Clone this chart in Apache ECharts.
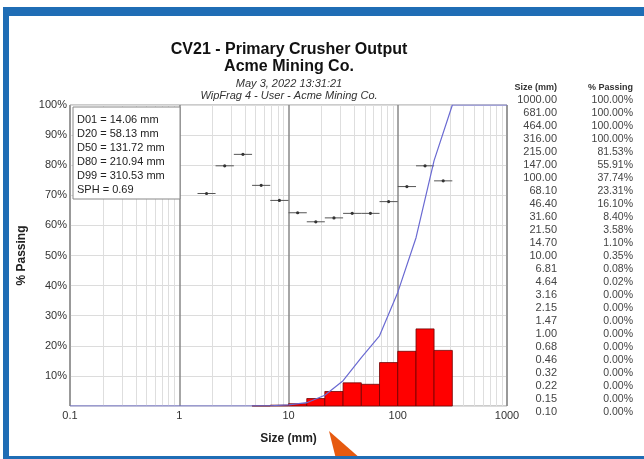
<!DOCTYPE html>
<html>
<head>
<meta charset="utf-8">
<script src="https://cdn.jsdelivr.net/npm/echarts@6/dist/echarts.min.js"></script>
<style>
  html, body { margin: 0; padding: 0; background: #fff; }
  #chart { width: 644px; height: 459px; }
</style>
</head>
<body>
<div id="chart"></div>
<script>
// 粒度表 (size / cumulative passing)
var sizes = [1000, 681, 464, 316, 215, 147, 100, 68.1, 46.4, 31.6, 21.5, 14.7, 10, 6.81, 4.64, 3.16, 2.15, 1.47, 1.00, 0.68, 0.46, 0.32, 0.22, 0.15, 0.10];
var passing = [100, 100, 100, 100, 81.53, 55.91, 37.74, 23.31, 16.10, 8.40, 3.58, 1.10, 0.35, 0.08, 0.02, 0, 0, 0, 0, 0, 0, 0, 0, 0, 0];

// histogram bins (retained %)
var binLo = [4.64, 6.81, 10, 14.7, 21.5, 31.6, 46.4, 68.1, 100, 147, 215];
var binHi = [6.81, 10, 14.7, 21.5, 31.6, 46.4, 68.1, 100, 147, 215, 316];
var retained = [0.06, 0.27, 0.75, 2.48, 4.82, 7.70, 7.21, 14.43, 18.17, 25.62, 18.47];

// per-bin markers
var markLo = [1.47, 2.15, 3.16, 4.64, 6.81, 10, 14.7, 21.5, 31.6, 46.4, 68.1, 100, 147, 215];
var markHi = [2.15, 3.16, 4.64, 6.81, 10, 14.7, 21.5, 31.6, 46.4, 68.1, 100, 147, 215, 316];
var markVal = [70.6, 79.8, 83.6, 73.3, 68.3, 64.2, 61.2, 62.5, 64.0, 64.0, 67.9, 72.9, 79.8, 74.8];

var stats = ['D01 = 14.06 mm', 'D20 = 58.13 mm', 'D50 = 131.72 mm', 'D80 = 210.94 mm', 'D99 = 310.53 mm', 'SPH = 0.69'];
var titleLines = ['CV21 - Primary Crusher Output', 'Acme Mining Co.', 'May 3, 2022 13:31:21', 'WipFrag 4 - User - Acme Mining Co.'];
var minorTicks = [0.2, 0.3, 0.4, 0.5, 0.6, 0.7, 0.8, 0.9, 2, 3, 4, 5, 6, 7, 8, 9, 20, 30, 40, 50, 60, 70, 80, 90, 200, 300, 400, 500, 600, 700, 800, 900];

var FONT = '"Liberation Sans", Arial, sans-serif';
var myChart = echarts.init(document.getElementById('chart'));

var curve = sizes.map(function (s, i) { return [s, passing[i]]; });
var bars = binLo.map(function (lo, i) { return [lo, binHi[i], retained[i]]; });
var marks = markLo.map(function (lo, i) { return [lo, markHi[i], markVal[i]]; });

var graphics = [];
// 标题
var titleY = [50, 67, 84, 96];
titleLines.forEach(function (t, i) {
    graphics.push({
        type: 'text', x: 289, y: titleY[i],
        style: {
            text: t, textAlign: 'center', textVerticalAlign: 'middle',
            font: (i < 2 ? 'bold 16px ' : 'italic 11px ') + FONT,
            fill: i < 2 ? '#111' : '#333'
        }
    });
});
// 统计框
graphics.push({
    type: 'rect', shape: { x: 73, y: 107, width: 107, height: 92 },
    style: { fill: '#fff', stroke: '#888', lineWidth: 1 }, z: 10
});
stats.forEach(function (t, i) {
    graphics.push({
        type: 'text', x: 77, y: 120 + i * 14, z: 11,
        style: { text: t, textVerticalAlign: 'middle', font: '11px ' + FONT, fill: '#222' }
    });
});
// 右侧表格
graphics.push({ type: 'text', x: 557, y: 88, style: { text: 'Size (mm)', textAlign: 'right', textVerticalAlign: 'middle', font: 'bold 9px ' + FONT, fill: '#333' } });
graphics.push({ type: 'text', x: 633, y: 88, style: { text: '% Passing', textAlign: 'right', textVerticalAlign: 'middle', font: 'bold 9px ' + FONT, fill: '#333' } });
sizes.forEach(function (s, i) {
    graphics.push({ type: 'text', x: 557, y: 100 + i * 13, style: { text: s.toFixed(2), textAlign: 'right', textVerticalAlign: 'middle', font: '11px ' + FONT, fill: '#444' } });
    graphics.push({ type: 'text', x: 633, y: 100 + i * 13, style: { text: passing[i].toFixed(2) + '%', textAlign: 'right', textVerticalAlign: 'middle', font: '10.5px ' + FONT, fill: '#444' } });
});
// 橙色箭头
graphics.push({ type: 'polygon', shape: { points: [[329, 431], [336, 459], [361, 459]] }, style: { fill: '#e65a10' }, z: 20 });
// 蓝色边框
graphics.push({ type: 'rect', shape: { x: 3, y: 7, width: 641, height: 9 }, style: { fill: '#1f6db5' }, z: 30 });
graphics.push({ type: 'rect', shape: { x: 3, y: 7, width: 6, height: 452 }, style: { fill: '#1f6db5' }, z: 30 });
graphics.push({ type: 'rect', shape: { x: 3, y: 456, width: 641, height: 3 }, style: { fill: '#1f6db5' }, z: 30 });

var option = {
    backgroundColor: '#fff',
    animation: false,
    textStyle: { fontFamily: FONT },
    grid: { left: 70, right: 137, top: 105, bottom: 53, show: true, borderColor: '#999', borderWidth: 1, backgroundColor: '#fff' },
    xAxis: {
        type: 'log', logBase: 10, min: 0.1, max: 1000, interval: 1,
        name: 'Size (mm)', nameLocation: 'middle', nameGap: 27,
        nameTextStyle: { fontWeight: 'bold', fontSize: 12, color: '#222' },
        axisLine: { show: false }, axisTick: { show: false },
        axisLabel: {
            fontSize: 11, color: '#333', margin: 4, showMinLabel: true, showMaxLabel: true,
            formatter: function (v) { return String(v); }
        },
        splitLine: { show: true, lineStyle: { color: '#888', width: 1.5 } }
    },
    yAxis: {
        type: 'value', min: 0, max: 100, interval: 10,
        name: '% Passing', nameLocation: 'middle', nameGap: 36,
        nameTextStyle: { fontWeight: 'bold', fontSize: 12, color: '#222' },
        axisLine: { show: false }, axisTick: { show: false },
        axisLabel: { fontSize: 11, color: '#333', margin: 3, formatter: function (v) { return v === 0 ? '' : v + '%'; } },
        splitLine: { show: true, lineStyle: { color: '#dcdcdc', width: 1 } }
    },
    series: [
        {
            type: 'line', data: [], z: 1, silent: true,
            markLine: {
                silent: true, z: 1, symbol: 'none', label: { show: false },
                lineStyle: { color: '#dedede', type: 'solid', width: 1 },
                data: minorTicks.map(function (v) { return { xAxis: v }; })
            }
        },
        {
            type: 'custom', z: 3, silent: true,
            encode: { x: [0, 1], y: 2 },
            renderItem: function (params, api) {
                var p0 = api.coord([api.value(0), 0]);
                var p1 = api.coord([api.value(1), api.value(2)]);
                return {
                    type: 'rect',
                    shape: { x: p0[0], y: p1[1], width: p1[0] - p0[0], height: p0[1] - p1[1] },
                    style: { fill: '#ff0000', stroke: '#6e0000', lineWidth: 0.8 }
                };
            },
            data: bars
        },
        {
            type: 'custom', z: 4, silent: true,
            encode: { x: [0, 1], y: 2 },
            renderItem: function (params, api) {
                var a = api.coord([api.value(0), api.value(2)]);
                var b = api.coord([api.value(1), api.value(2)]);
                var cx = (a[0] + b[0]) / 2;
                return {
                    type: 'group',
                    children: [
                        { type: 'line', shape: { x1: a[0], y1: a[1], x2: b[0], y2: b[1] }, style: { stroke: '#555', lineWidth: 1 } },
                        { type: 'circle', shape: { cx: cx, cy: a[1], r: 1.6 }, style: { fill: '#333' } }
                    ]
                };
            },
            data: marks
        },
        {
            type: 'line', z: 5, silent: true, symbol: 'none',
            lineStyle: { color: '#6a6ad2', width: 1.2 },
            data: curve
        }
    ],
    graphic: graphics
};

myChart.setOption(option);
</script>
</body>
</html>
